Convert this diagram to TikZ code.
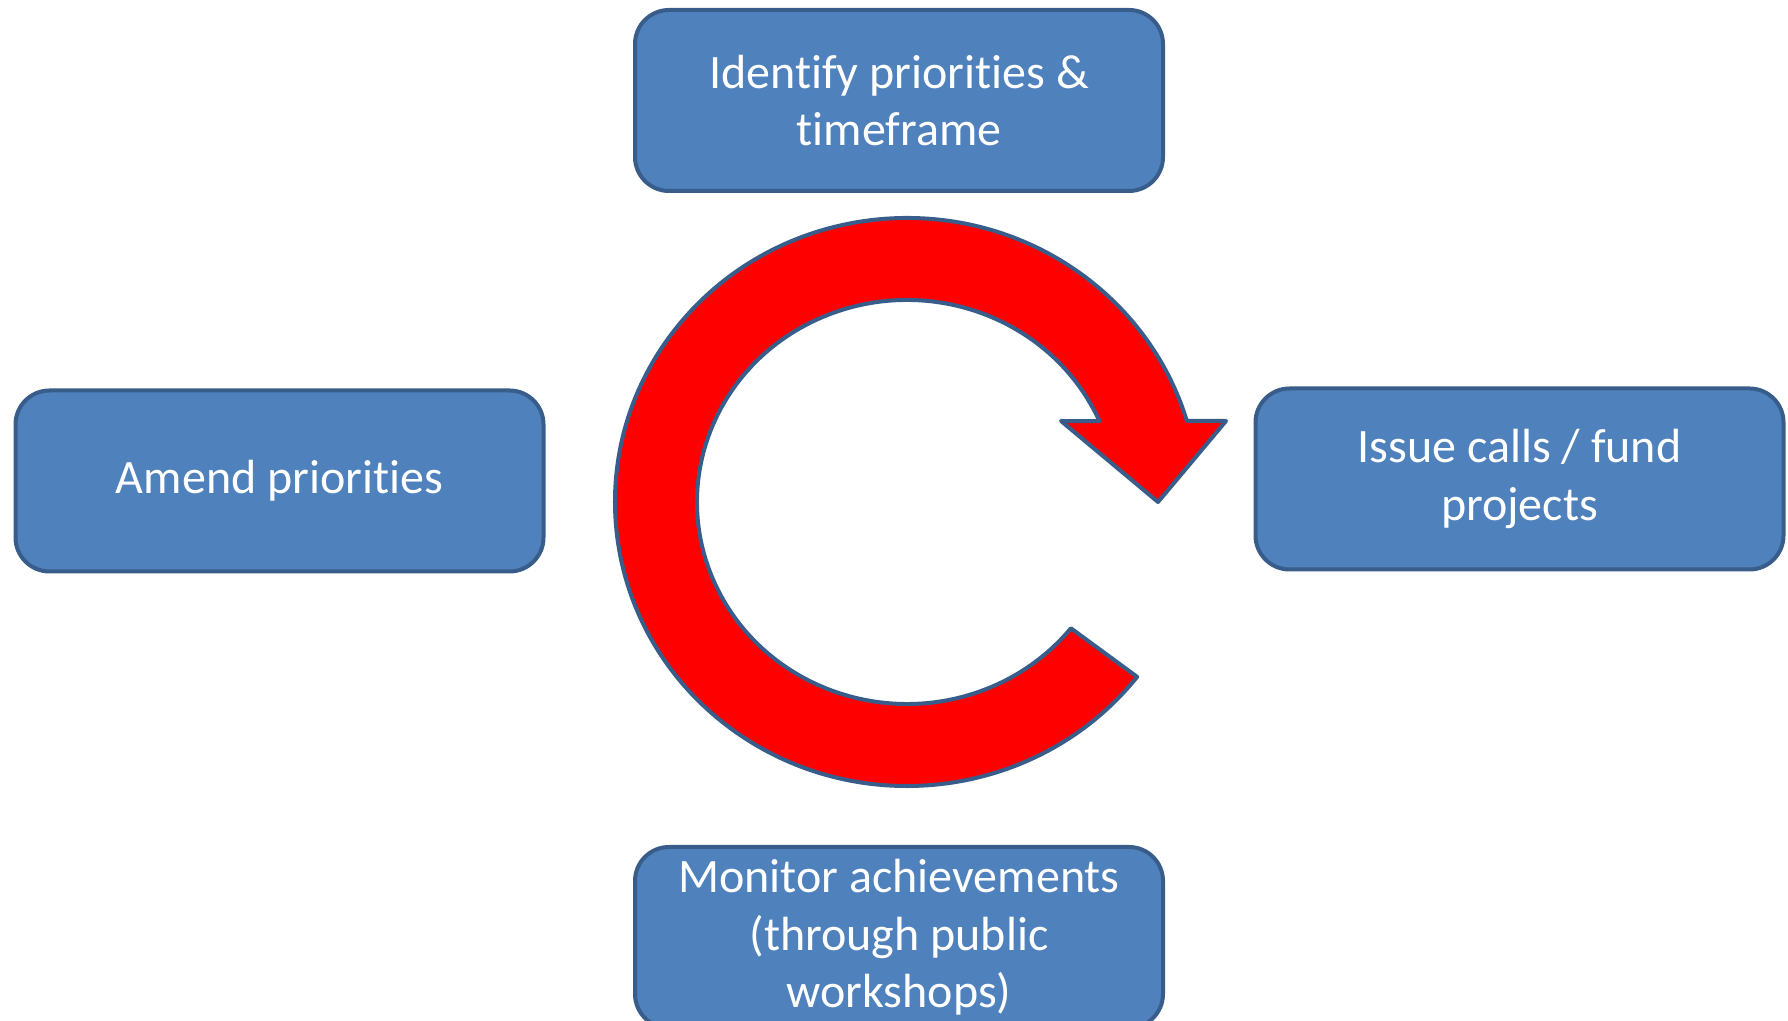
\documentclass[tikz,border=0pt]{standalone}
\usepackage{fontspec}
\setmainfont{Carlito}[Ligatures=NoCommon]
\usepackage{xcolor}
\usetikzlibrary{positioning, calc}

\definecolor{boxblue}{HTML}{4F81BD}
\definecolor{boxline}{HTML}{385D8A}

\begin{document}
\begin{tikzpicture}[x=0.5pt, y=0.5pt, node distance = 326pt,
        box/.style={draw=boxline, fill=boxblue, line width=2pt, rounded corners=17pt,
            minimum width=264pt, minimum height=90.5pt, align=center, text=white,
            font=\fontsize{24}{28.8}\selectfont},
        cyclearrow/.style={draw=boxline, fill=red, line width=2pt, line join=round}]
        \useasboundingbox (0,0) rectangle (1788,1021);

        % the four steps
        \node[box] (identify) at (899,920.5) {Identify priorities \&\\timeframe};
        \node[box] (monitor) [below = of identify] {Monitor achievements\\(through public\\workshops)};
        \node[box] (amend) at (279.5,540) {Amend priorities};
        \node[box, yshift=1pt] (issue) [right = 354pt of amend] {Issue calls / fund\\projects};

        % red circular arrow
        \coordinate (c) at (907,519);
        \draw[cyclearrow] ([shift={(-38.7:105pt and 101pt)}]c)
            -- ([shift={(-38:146pt and 142pt)}]c)
            arc[start angle=-38, end angle=-343.4, x radius=146pt, y radius=142pt]
            -- (1226,600) -- (1158,519) -- (1061,600)
            -- ([shift={(23.6:105pt and 101pt)}]c)
            arc[start angle=23.6, end angle=321.3, x radius=105pt, y radius=101pt]
            -- cycle;
    \end{tikzpicture}
\end{document}
